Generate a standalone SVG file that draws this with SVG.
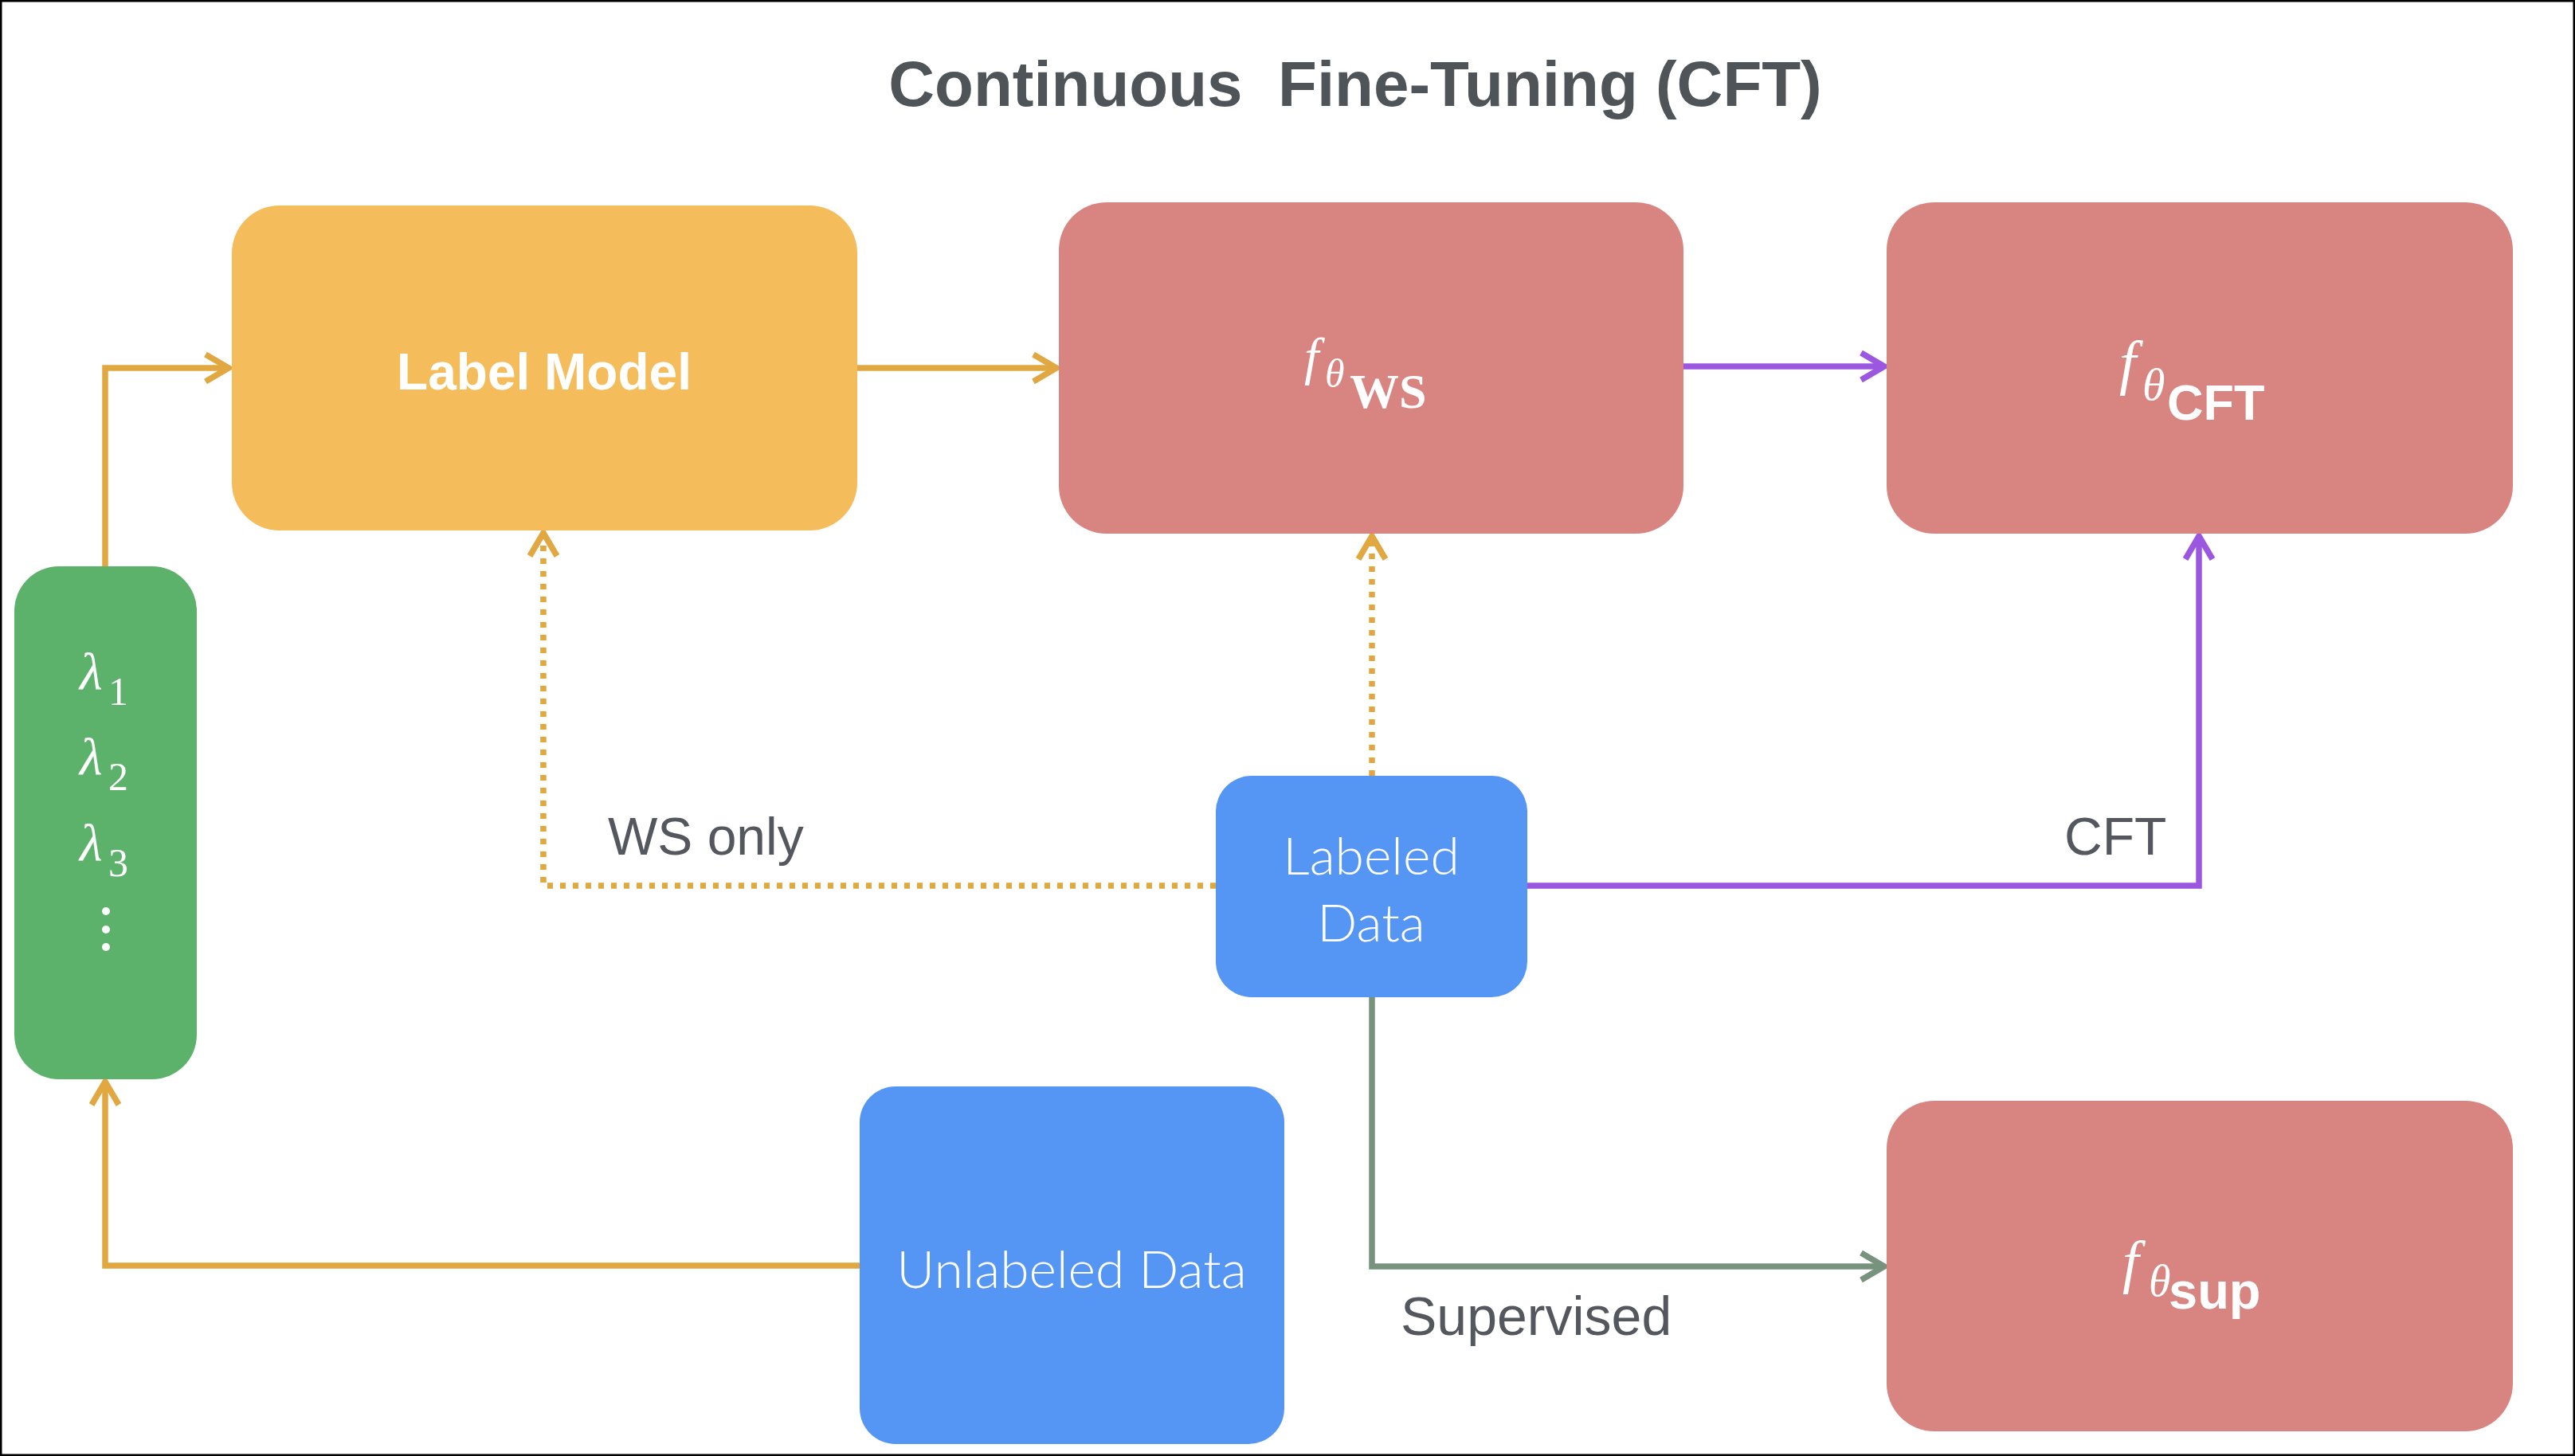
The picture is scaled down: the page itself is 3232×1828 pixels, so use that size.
<svg xmlns="http://www.w3.org/2000/svg" width="3232" height="1828" viewBox="0 0 3232 1828">
  <defs>
    <style>
      .title { font-family: "Liberation Sans", Arial, sans-serif; font-weight: 700; font-size: 80px; fill: #4f5459; }
      .lbl { font-family: "Liberation Sans", Arial, sans-serif; font-size: 66px; fill: #54585e; }
      .boxbold { font-family: "Liberation Sans", Arial, sans-serif; font-weight: 700; fill: #ffffff; }
      .boxlight { font-family: Lato, "Open Sans", sans-serif; font-weight: 300; font-size: 66px; fill: #ffffff; }
      .mathi { font-family: "Liberation Serif", "Times New Roman", serif; font-style: italic; fill: #ffffff; }
      .mathr { font-family: "Liberation Serif", "Times New Roman", serif; font-style: normal; fill: #ffffff; }
      .mathb { font-family: "Liberation Serif", "Times New Roman", serif; font-weight: 700; fill: #ffffff; }
      .conn { fill: none; stroke-width: 7.5; stroke-linejoin: miter; stroke-linecap: butt; }
      .orange { stroke: #e1a842; }
      .purple { stroke: #9b57e0; }
      .green { stroke: #77937e; }
      .dotted { stroke-dasharray: 7 9; }
    </style>
    <marker id="arrO" markerUnits="userSpaceOnUse" markerWidth="44" markerHeight="44" viewBox="-40 -22 44 44" refX="0" refY="0" orient="auto">
      <path d="M -29 -17 L 0 0 L -29 17" fill="none" stroke="#e1a842" stroke-width="7.5" stroke-dasharray="none"/>
    </marker>
    <marker id="arrP" markerUnits="userSpaceOnUse" markerWidth="44" markerHeight="44" viewBox="-40 -22 44 44" refX="0" refY="0" orient="auto">
      <path d="M -29 -17 L 0 0 L -29 17" fill="none" stroke="#9b57e0" stroke-width="7.5"/>
    </marker>
    <marker id="arrG" markerUnits="userSpaceOnUse" markerWidth="44" markerHeight="44" viewBox="-40 -22 44 44" refX="0" refY="0" orient="auto">
      <path d="M -29 -17 L 0 0 L -29 17" fill="none" stroke="#77937e" stroke-width="7.5"/>
    </marker>
  </defs>

  <rect x="0" y="0" width="3232" height="1828" fill="#ffffff" stroke="#000000" stroke-width="5"/>

  <text class="title" x="1701" y="133" text-anchor="middle" xml:space="preserve">Continuous  Fine-Tuning (CFT)</text>

  <g id="connectors">
    <path class="conn orange" d="M 132 711 L 132 462 L 287 462" marker-end="url(#arrO)"/>
    <path class="conn orange" d="M 1076 462 L 1326 462" marker-end="url(#arrO)"/>
    <path class="conn purple" d="M 2113 460 L 2365 460" marker-end="url(#arrP)"/>
    <path class="conn orange dotted" d="M 1526 1112 L 682 1112 L 682 669" marker-end="url(#arrO)"/>
    <path class="conn orange dotted" d="M 1722 974 L 1722 673" marker-end="url(#arrO)"/>
    <path class="conn purple" d="M 1917 1112 L 2760 1112 L 2760 673" marker-end="url(#arrP)"/>
    <path class="conn green" d="M 1722 1252 L 1722 1590 L 2365 1590" marker-end="url(#arrG)"/>
    <path class="conn orange" d="M 1079 1589 L 132 1589 L 132 1358" marker-end="url(#arrO)"/>
    <text class="lbl" x="763" y="1073">WS only</text>
    <text class="lbl" x="2591" y="1073">CFT</text>
    <text class="lbl" x="1758" y="1676" style="font-size:68px">Supervised</text>
  </g>

  <g id="label-model">
    <rect x="291" y="258" width="785" height="408" rx="60" ry="60" fill="#f4bc5a"/>
    <text class="boxbold" x="683" y="489" font-size="64" text-anchor="middle">Label Model</text>
  </g>

  <g id="f-ws">
    <rect x="1329" y="254" width="784" height="416" rx="60" ry="60" fill="#d88481"/>
    <text class="mathi" x="1637" y="470" font-size="66">f</text>
    <text class="mathi" x="1663" y="486" font-size="50">θ</text>
    <text class="mathb" x="1694" y="512" font-size="62">WS</text>
  </g>

  <g id="f-cft">
    <rect x="2368" y="254" width="786" height="416" rx="60" ry="60" fill="#d88481"/>
    <text class="mathi" x="2660" y="481" font-size="76">f</text>
    <text class="mathi" x="2689" y="502" font-size="58">θ</text>
    <text class="boxbold" x="2720" y="527" font-size="63">CFT</text>
  </g>

  <g id="f-sup">
    <rect x="2368" y="1382" width="786" height="415" rx="60" ry="60" fill="#d88481"/>
    <text class="mathi" x="2664" y="1609" font-size="74">f</text>
    <text class="mathi" x="2697" y="1627" font-size="56">θ</text>
    <text class="boxbold" x="2722" y="1643" font-size="65">sup</text>
  </g>

  <g id="lambdas">
    <rect x="18" y="711" width="229" height="644" rx="56" ry="56" fill="#5cb26b"/>
    <text class="mathi" x="100" y="865" font-size="66">λ</text>
    <text class="mathr" x="136" y="885" font-size="50">1</text>
    <text class="mathi" x="100" y="972" font-size="66">λ</text>
    <text class="mathr" x="136" y="992" font-size="50">2</text>
    <text class="mathi" x="100" y="1080" font-size="66">λ</text>
    <text class="mathr" x="136" y="1100" font-size="50">3</text>
    <circle cx="133" cy="1144" r="5" fill="#ffffff"/>
    <circle cx="133" cy="1167" r="5" fill="#ffffff"/>
    <circle cx="133" cy="1189" r="5" fill="#ffffff"/>
  </g>

  <g id="labeled-data">
    <rect x="1526" y="974" width="391" height="278" rx="45" ry="45" fill="#5595f3"/>
    <text class="boxlight" x="1721" y="1098" text-anchor="middle">Labeled</text>
    <text class="boxlight" x="1721" y="1182" text-anchor="middle">Data</text>
  </g>

  <g id="unlabeled-data">
    <rect x="1079" y="1364" width="533" height="449" rx="45" ry="45" fill="#5595f3"/>
    <text class="boxlight" x="1345" y="1617" text-anchor="middle">Unlabeled Data</text>
  </g>
</svg>
